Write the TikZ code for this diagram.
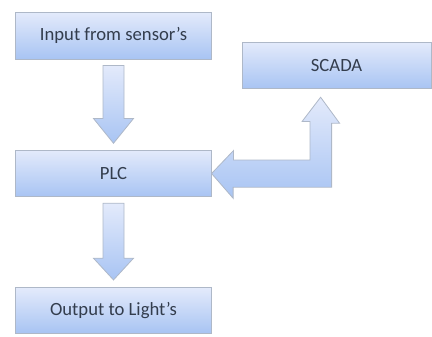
\documentclass[tikz,border=0pt]{standalone}
\usepackage{fontspec}
\setmainfont{Carlito}
\usetikzlibrary{calc}

\definecolor{boxtop}{HTML}{E3EAFB}
\definecolor{boxbot}{HTML}{A8C4F3}
\definecolor{boxline}{HTML}{AEB8C8}
\definecolor{txt}{HTML}{333D4D}

\tikzset{
  block/.style={draw=boxline, line width=0.6pt, top color=boxtop, bottom color=boxbot,
    minimum width=146.5pt, minimum height=35pt, inner sep=0pt,
    text=txt, font=\fontsize{14}{16}\selectfont},
  fatarrow/.style={draw=boxline, line width=0.6pt, line join=miter, top color=boxtop, bottom color=boxbot}
}

\begin{document}
\begin{tikzpicture}[x=0.75pt, y=-0.75pt]
    \useasboundingbox (0,0) rectangle (432,336);
    % boxes
    \node[block] (inp) at (113.5,35.8) {Input from sensor's};
    \node[block, minimum width=141.5pt] (scada) at (336.6,65.5) {SCADA};
    \node[block] (plc) at (113.5,173.5) {PLC};
    \node[block, minimum height=34pt] (out) at (113.5,310.5) {Output to Light's};
    % input -> plc
    \draw[fatarrow] ($(inp.south)+(-10.5,6)$) -- ++(21,0) -- ++(0,53) -- ++(9.5,0)
        -- ($(plc.north)+(0,-6.5)$) -- ($(inp.south)+(-20,59)$) -- ++(9.5,0) -- cycle;
    % plc -> output
    \draw[fatarrow] ($(plc.south)+(-10.5,6)$) -- ++(21,0) -- ++(0,55) -- ++(9.5,0)
        -- ($(out.north)+(0,-7.5)$) -- ($(plc.south)+(-20,61)$) -- ++(9.5,0) -- cycle;
    % plc <-> scada
    \draw[fatarrow] (plc.east) -- ++(22,-23) -- ++(0,9.5) -- ++(76.5,0) -- ++(0,-38.5)
        -- ++(-8,0) -- ($(scada.south)+(-16,8)$) -- ++(19,26) -- ++(-8,0) -- ++(0,64)
        -- ++(-98.5,0) -- ++(0,11) -- cycle;
\end{tikzpicture}
\end{document}
